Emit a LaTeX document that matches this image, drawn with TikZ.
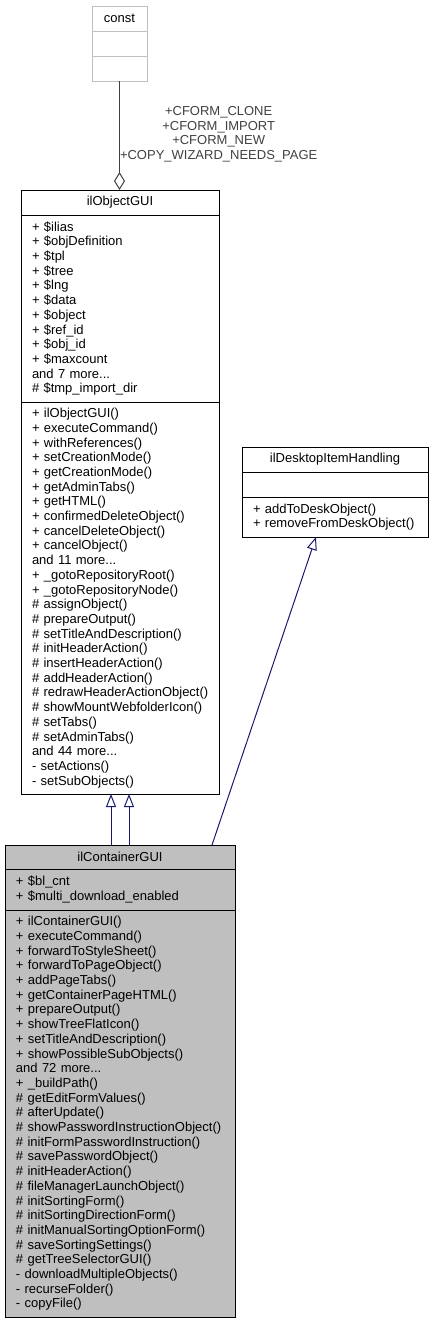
\documentclass[tikz,border=0pt]{standalone}
\usepackage{fontspec}
\setmainfont{Liberation Sans}
\usetikzlibrary{positioning,arrows.meta}
\definecolor{EdgeBlue}{HTML}{191970}
\definecolor{EdgeGrey}{HTML}{404040}
\definecolor{BoxGrey}{HTML}{BFBFBF}
\newcommand{\umlsize}{\fontsize{13}{14.7}\selectfont\hyphenpenalty=10000\exhyphenpenalty=10000\relax}

\begin{document}
\begin{tikzpicture}[
	x=1pt,y=-1pt,
	node distance=0pt,
	umlfont/.style={font=\umlsize},
	classtitle/.style={umlfont,draw=black,line width=1pt,outer sep=0pt,inner sep=0pt,align=center},
	classpart/.style={umlfont,draw=black,line width=1pt,outer sep=0pt,inner xsep=11pt,inner ysep=0pt,align=left},
	inherit/.style={EdgeBlue,line width=1pt,-{Triangle[open,length=13pt,width=10pt]}},
	usage/.style={EdgeGrey,line width=1pt,-{Diamond[open,length=18pt,width=11pt]}}
	]
	
	\useasboundingbox (0,0) rectangle (432,1323);
	
	% ---------------------------------------------------------
	% CONST
	% ---------------------------------------------------------
	
	\node[
	classtitle,
	draw=BoxGrey,
	minimum width=55pt,
	minimum height=25pt,
	anchor=north west
	]
	(constTitle) at (92,6)
	{const};
	
	\node[classpart,draw=BoxGrey,minimum width=55pt,minimum height=25pt,below=of constTitle]
	(constAttr) {};
	
	\node[classpart,draw=BoxGrey,minimum width=55pt,minimum height=25pt,below=of constAttr]
	(constOps) {};
	
	% ---------------------------------------------------------
	% ILOBJECTGUI
	% ---------------------------------------------------------
	
	\node[
	classtitle,
	minimum width=198pt,
	minimum height=25pt,
	anchor=north west
	]
	(objTitle) at (21,190)
	{ilObjectGUI};
	
	\node[
	classpart,
	text width=176pt,
	minimum height=187pt,
	below=of objTitle
	]
	(objAttr)
	{+~\$ilias\\
		+~\$objDefinition\\
		+~\$tpl\\
		+~\$tree\\
		+~\$lng\\
		+~\$data\\
		+~\$object\\
		+~\$ref\_id\\
		+~\$obj\_id\\
		+~\$maxcount\\
		and~7~more...\\
		\#~\$tmp\_import\_dir};
	
	\node[
	classpart,
	text width=176pt,
	minimum height=392pt,
	below=of objAttr
	]
	(objOps)
	{+~ilObjectGUI()\\
		+~executeCommand()\\
		+~withReferences()\\
		+~setCreationMode()\\
		+~getCreationMode()\\
		+~getAdminTabs()\\
		+~getHTML()\\
		+~confirmedDeleteObject()\\
		+~cancelDeleteObject()\\
		+~cancelObject()\\
		and~11~more...\\
		+~\_gotoRepositoryRoot()\\
		+~\_gotoRepositoryNode()\\
		\#~assignObject()\\
		\#~prepareOutput()\\
		\#~setTitleAndDescription()\\
		\#~initHeaderAction()\\
		\#~insertHeaderAction()\\
		\#~addHeaderAction()\\
		\#~redrawHeaderActionObject()\\
		\#~showMountWebfolderIcon()\\
		\#~setTabs()\\
		\#~setAdminTabs()\\
		and~44~more...\\
		-~setActions()\\
		-~setSubObjects()};
	
	% ---------------------------------------------------------
	% ILDESKTOPITEMHANDLING
	% ---------------------------------------------------------
	
	\node[
	classtitle,
	minimum width=186pt,
	minimum height=25pt,
	anchor=north west
	]
	(deskTitle) at (242,447)
	{ilDesktopItemHandling};
	
	\node[classpart,text width=164pt,minimum height=25pt,below=of deskTitle]
	(deskAttr) {};
	
	\node[
	classpart,
	text width=164pt,
	minimum height=40pt,
	below=of deskAttr
	]
	(deskOps)
	{+~addToDeskObject()\\
		+~removeFromDeskObject()};
	
	% ---------------------------------------------------------
	% ILCONTAINERGUI
	% ---------------------------------------------------------
	
	\node[
	classtitle,
	fill=BoxGrey,
	minimum width=230pt,
	minimum height=24pt,
	anchor=north west
	]
	(contTitle) at (5,845)
	{ilContainerGUI};
	
	\node[
	classpart,
	fill=BoxGrey,
	text width=208pt,
	minimum height=41pt,
	below=of contTitle
	]
	(contAttr)
	{+~\$bl\_cnt\\
		+~\$multi\_download\_enabled};
	
	\node[
	classpart,
	fill=BoxGrey,
	text width=208pt,
	minimum height=407pt,
	below=of contAttr
	]
	(contOps)
	{+~ilContainerGUI()\\
		+~executeCommand()\\
		+~forwardToStyleSheet()\\
		+~forwardToPageObject()\\
		+~addPageTabs()\\
		+~getContainerPageHTML()\\
		+~prepareOutput()\\
		+~showTreeFlatIcon()\\
		+~setTitleAndDescription()\\
		+~showPossibleSubObjects()\\
		and~72~more...\\
		+~\_buildPath()\\
		\#~getEditFormValues()\\
		\#~afterUpdate()\\
		\#~showPasswordInstructionObject()\\
		\#~initFormPasswordInstruction()\\
		\#~savePasswordObject()\\
		\#~initHeaderAction()\\
		\#~fileManagerLaunchObject()\\
		\#~initSortingForm()\\
		\#~initSortingDirectionForm()\\
		\#~initManualSortingOptionForm()\\
		\#~saveSortingSettings()\\
		\#~getTreeSelectorGUI()\\
		-~downloadMultipleObjects()\\
		-~recurseFolder()\\
		-~copyFile()};
	
	% ---------------------------------------------------------
	% ARROWS
	% ---------------------------------------------------------
	
	\draw[usage]
	(constOps.south) --
	node[umlfont,pos=0.75,anchor=south west,inner sep=0pt,align=center]
	{+CFORM\_CLONE\\+CFORM\_IMPORT\\+CFORM\_NEW\\+COPY\_WIZARD\_NEEDS\_PAGE}
	(constOps.south |- objTitle.north);
	
	\draw[inherit]
	([xshift=-9pt]contTitle.north) -- ([xshift=-9pt]objOps.south);
	
	\draw[inherit]
	([xshift=9pt]contTitle.north) -- ([xshift=9pt]objOps.south);
	
	\draw[inherit]
	([xshift=92pt]contTitle.north) -- ([xshift=-19pt]deskOps.south);
	
\end{tikzpicture}
\end{document}
